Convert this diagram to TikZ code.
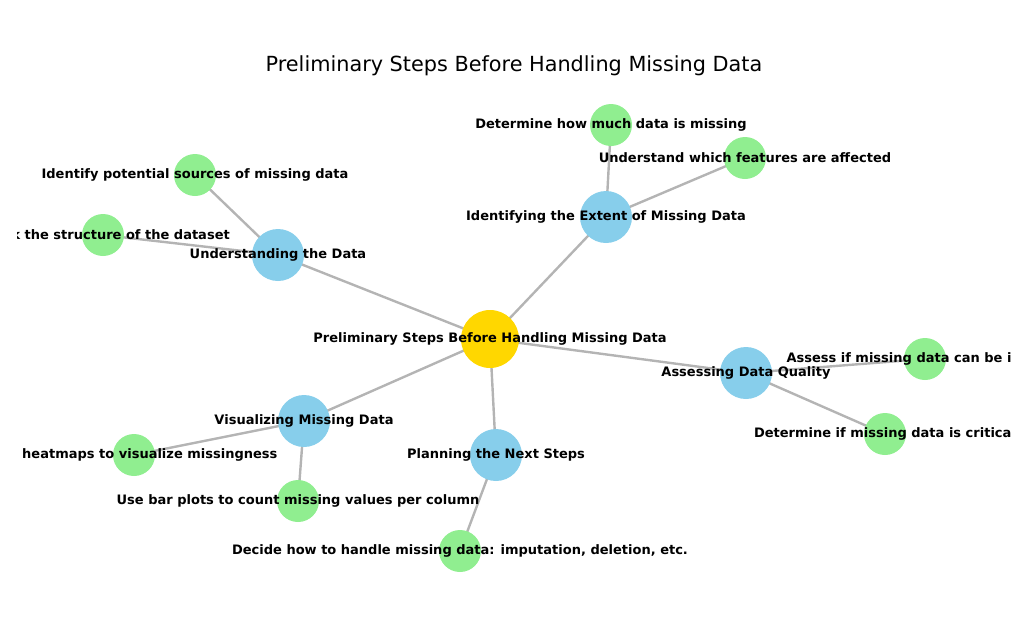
\documentclass[tikz,border=0pt]{standalone}
\usepackage{fontspec}
\setmainfont{DejaVu Sans}
\usetikzlibrary{backgrounds}

\begin{document}
\begin{tikzpicture}[x=0.5pt,y=-0.5pt,
    racine/.style={circle,fill={rgb,255:red,255;green,215;blue,0},minimum size=29pt,inner sep=0pt},
    etape/.style={circle,fill={rgb,255:red,135;green,206;blue,235},minimum size=26pt,inner sep=0pt},
    feuille/.style={circle,fill={rgb,255:red,144;green,238;blue,144},minimum size=21pt,inner sep=0pt},
    lien/.style={draw={rgb,255:red,180;green,180;blue,180},line width=1.2pt},
    texte/.style={font=\bfseries\fontsize{6.5}{8}\selectfont,inner sep=0pt}]
    % Cadre
    \useasboundingbox (0,0) rectangle (1024,628);
    \clip (17,0) rectangle (1010,628);
    \node[font=\fontsize{10.4}{12}\selectfont] (titre) at (514,66) {Preliminary Steps Before Handling Missing Data};
    % Noeuds
    \node[racine] (r) at (490,339) {};
    \node[etape] (e1) at (278,255) {};
    \node[etape] (e2) at (606,217) {};
    \node[etape] (e3) at (746,373) {};
    \node[etape] (e4) at (496,455) {};
    \node[etape] (e5) at (304,421) {};
    \node[feuille] (f11) at (195,175) {};
    \node[feuille] (f12) at (103,235) {};
    \node[feuille] (f21) at (611,125) {};
    \node[feuille] (f22) at (745,158) {};
    \node[feuille] (f31) at (925,359) {};
    \node[feuille] (f32) at (885,434) {};
    \node[feuille] (f41) at (460,551) {};
    \node[feuille] (f51) at (134,455) {};
    \node[feuille] (f52) at (298,501) {};
    % Liens
    \begin{pgfonlayer}{background}
    \foreach \a/\b in {r/e1,r/e2,r/e3,r/e4,r/e5,e1/f11,e1/f12,e2/f21,e2/f22,e3/f31,e3/f32,e4/f41,e5/f51,e5/f52}
        \draw[lien] (\a.center) -- (\b.center);
    \end{pgfonlayer}
    % Textes
    \node[texte] at (r) {Preliminary Steps Before Handling Missing Data};
    \node[texte] at (e1) {Understanding the Data};
    \node[texte] at (e2) {Identifying the Extent of Missing Data};
    \node[texte] at (e3) {Assessing Data Quality};
    \node[texte] at (e4) {Planning the Next Steps};
    \node[texte] at (e5) {Visualizing Missing Data};
    \node[texte] at (f11) {Identify potential sources of missing data};
    \node[texte] at (f12) {Check the structure of the dataset};
    \node[texte] at (f21) {Determine how much data is missing};
    \node[texte] at (f22) {Understand which features are affected};
    \node[texte] at (f31) {Assess if missing data can be ignored};
    \node[texte] at (f32) {Determine if missing data is critical};
    \node[texte] at (f41) {Decide how to handle missing data: imputation, deletion, etc.};
    \node[texte] at (f51) {Use heatmaps to visualize missingness};
    \node[texte] at (f52) {Use bar plots to count missing values per column};
\end{tikzpicture}
\end{document}
